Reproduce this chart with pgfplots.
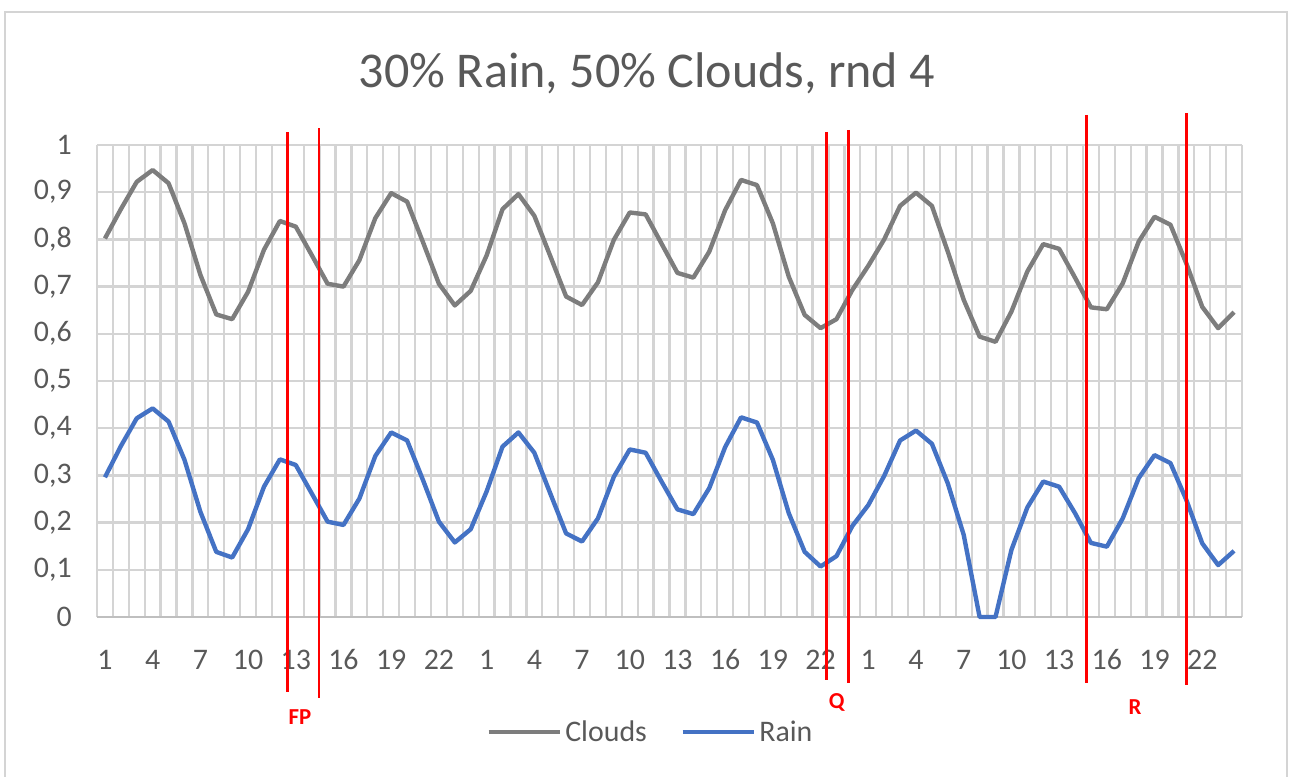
\documentclass[border=0pt]{standalone}
\usepackage{fontspec}
\setmainfont{Carlito}
\usepackage{pgfplots}
\pgfplotsset{compat=1.18}
\definecolor{gridgray}{RGB}{212,212,212}
\definecolor{axgray}{RGB}{191,191,191}
\definecolor{txtgray}{RGB}{89,89,89}
\definecolor{cloudgray}{RGB}{125,125,125}
\definecolor{rainblue}{RGB}{68,114,196}

\begin{document}
\begin{tikzpicture}
% canvas: 1 px = 0.02cm, origin top-left
\useasboundingbox (0,0) rectangle (25.8,-15.54);
\draw[gridgray, line width=1.2pt] (0.1,-0.24) rectangle (25.74,-16.2);
\node[text=txtgray, font=\fontsize{28.5}{34}\selectfont] at (12.94,-1.46) {30\% Rain, 50\% Clouds, rnd 4};

\begin{axis}[
    at={(1.94cm,-12.34cm)}, anchor=south west,
    scale only axis,
    width=22.9cm, height=9.44cm,
    xmin=-0.5, xmax=71.5,
    ymin=0, ymax=1,
    xtick={0,3,...,69},
    xticklabels={1,4,7,10,13,16,19,22,1,4,7,10,13,16,19,22,1,4,7,10,13,16,19,22},
    minor xtick={-0.5,0.5,...,71.5},
    ytick={0,0.1,...,1},
    xmajorgrids=false, xminorgrids=true, ymajorgrids=true,
    grid style={gridgray, line width=1.3pt},
    minor grid style={gridgray, line width=1.3pt},
    major tick length=0pt, minor tick length=0pt,
    axis x line*=bottom,
    axis y line*=left,
    x axis line style={axgray, line width=1.6pt, -},
    y axis line style={draw=none},
    /pgf/number format/assume math mode=true,
    /pgf/number format/.cd, use comma, fixed, precision=1,
    /pgfplots/.cd,
    ticklabel style={text=txtgray, font=\fontsize{17}{20}\selectfont},
    xticklabel style={anchor=center, inner sep=0pt, yshift=-0.86cm},
    yticklabel style={anchor=east, inner sep=0pt, xshift=-0.5cm},
    clip=false,
    legend style={at={(0.484,-0.244)}, anchor=center, draw=none, fill=none,
        font=\fontsize{17}{20}\selectfont, text=txtgray,
        legend columns=2,
        /tikz/every even column/.append style={column sep=0.6cm}},
    legend image code/.code={\draw[#1] (0cm,0cm) -- (1.42cm,0cm);},
]
\addplot[cloudgray, line width=2.5pt, line join=round] coordinates {
(0,0.802) (1,0.864) (2,0.922) (3,0.947) (4,0.919) (5,0.834) (6,0.725) (7,0.641)
(8,0.631) (9,0.689) (10,0.778) (11,0.839) (12,0.827) (13,0.767) (14,0.706) (15,0.700)
(16,0.756) (17,0.845) (18,0.898) (19,0.880) (20,0.794) (21,0.706) (22,0.660) (23,0.691)
(24,0.766) (25,0.864) (26,0.896) (27,0.850) (28,0.765) (29,0.679) (30,0.661) (31,0.709)
(32,0.799) (33,0.857) (34,0.853) (35,0.791) (36,0.729) (37,0.719) (38,0.774) (39,0.862)
(40,0.926) (41,0.915) (42,0.834) (43,0.721) (44,0.640) (45,0.612) (46,0.631) (47,0.693)
(48,0.744) (49,0.800) (50,0.871) (51,0.899) (52,0.871) (53,0.774) (54,0.672) (55,0.594)
(56,0.583) (57,0.647) (58,0.732) (59,0.790) (60,0.780) (61,0.719) (62,0.656) (63,0.652)
(64,0.707) (65,0.795) (66,0.848) (67,0.831) (68,0.749) (69,0.657) (70,0.612) (71,0.646)
};
\addlegendentry{Clouds}
\addplot[rainblue, line width=2.5pt, line join=round] coordinates {
(0,0.296) (1,0.362) (2,0.421) (3,0.442) (4,0.414) (5,0.333) (6,0.223) (7,0.138)
(8,0.126) (9,0.186) (10,0.276) (11,0.334) (12,0.322) (13,0.262) (14,0.202) (15,0.195)
(16,0.251) (17,0.341) (18,0.391) (19,0.374) (20,0.290) (21,0.202) (22,0.158) (23,0.186)
(24,0.266) (25,0.361) (26,0.391) (27,0.348) (28,0.262) (29,0.177) (30,0.160) (31,0.209)
(32,0.297) (33,0.355) (34,0.348) (35,0.287) (36,0.228) (37,0.218) (38,0.273) (39,0.360)
(40,0.423) (41,0.412) (42,0.333) (43,0.220) (44,0.138) (45,0.107) (46,0.129) (47,0.193)
(48,0.237) (49,0.299) (50,0.374) (51,0.395) (52,0.367) (53,0.283) (54,0.174) (55,0)
(56,0) (57,0.142) (58,0.232) (59,0.287) (60,0.276) (61,0.220) (62,0.157) (63,0.149)
(64,0.209) (65,0.294) (66,0.343) (67,0.326) (68,0.248) (69,0.156) (70,0.110) (71,0.140)
};
\addlegendentry{Rain}

% red markers
\draw[red, line width=1.7pt] (axis cs:11.45,1.0275) -- (axis cs:11.45,-0.159);
\draw[red, line width=1.7pt] (axis cs:13.46,1.036) -- (axis cs:13.46,-0.172);
\draw[red, line width=1.7pt] (axis cs:45.38,1.028) -- (axis cs:45.38,-0.133);
\draw[red, line width=1.7pt] (axis cs:46.77,1.032) -- (axis cs:46.77,-0.140);
\draw[red, line width=1.7pt] (axis cs:61.73,1.064) -- (axis cs:61.73,-0.140);
\draw[red, line width=1.7pt] (axis cs:67.98,1.068) -- (axis cs:67.98,-0.144);
\node[text=red, font=\fontsize{13}{15}\selectfont\bfseries] at (axis cs:12.26,-0.212) {FP};
\node[text=red, font=\fontsize{13}{15}\selectfont\bfseries] at (axis cs:46.01,-0.182) {Q};
\node[text=red, font=\fontsize{13}{15}\selectfont\bfseries] at (axis cs:64.77,-0.190) {R};
\end{axis}
\end{tikzpicture}
\end{document}
